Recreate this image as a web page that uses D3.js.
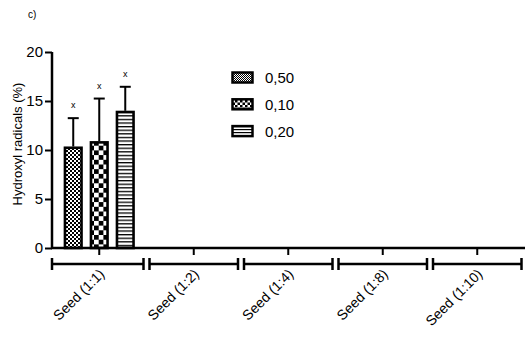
<!DOCTYPE html>
<html><head><meta charset="utf-8">
<script src="https://cdn.jsdelivr.net/npm/d3@7"></script>
<style>body{margin:0;background:#fff}svg{display:block}text{font-family:"Liberation Sans",Arial,sans-serif;fill:#000}</style>
</head><body><svg id="c" width="532" height="338"></svg>
<script>
const categories = ["Seed (1:1)", "Seed (1:2)", "Seed (1:4)", "Seed (1:8)", "Seed (1:10)"];
const seriesNames = ["0,50", "0,10", "0,20"];
const meanValues = [[10.35, null, null, null, null],[10.9, null, null, null, null],[14.0, null, null, null, null]];
const errorValues = [[2.9, null, null, null, null],[4.35, null, null, null, null],[2.45, null, null, null, null]];
const sigMarks = [["x", null, null, null, null],["x", null, null, null, null],["x", null, null, null, null]];
const yTicks = [0, 5, 10, 15, 20];

const svg = d3.select("#c");
const defs = svg.append("defs");
function checker(id, s){
  const p = defs.append("pattern").attr("id",id).attr("patternUnits","userSpaceOnUse").attr("width",2*s).attr("height",2*s);
  p.append("rect").attr("width",2*s).attr("height",2*s).attr("fill","#fff");
  p.append("rect").attr("width",s).attr("height",s).attr("fill","#000");
  p.append("rect").attr("x",s).attr("y",s).attr("width",s).attr("height",s).attr("fill","#000");
}
function stripes(id, period, lw){
  const p = defs.append("pattern").attr("id",id).attr("patternUnits","userSpaceOnUse").attr("width",4).attr("height",period);
  p.append("rect").attr("width",4).attr("height",period).attr("fill","#fff");
  p.append("rect").attr("width",4).attr("height",lw).attr("fill","#000");
}
checker("p1",2); checker("p2",4.7); stripes("p3",3.6,1.3);
checker("lp1",1); checker("lp2",2.5); stripes("lp3",3,1.2);
const fills = ["url(#p1)","url(#p2)","url(#p3)"];
const lfills = ["url(#lp1)","url(#lp2)","url(#lp3)"];

const x = d3.scaleBand().domain(categories).range([52, 524.5]);
const xs = d3.scaleBand().domain(seriesNames).range([-35.5, 35.5]).paddingInner(0.27).paddingOuter(0);
const y = d3.scaleLinear().domain([0, 20]).range([248, 52]);

// y axis
const ya = svg.append("g").attr("transform","translate(52,0)")
  .call(d3.axisLeft(y).tickValues(yTicks).tickSize(7).tickPadding(2));
ya.select(".domain").attr("stroke","#000").attr("stroke-width",2.5).attr("d","M0,52V248");
ya.selectAll(".tick line").attr("stroke","#000").attr("stroke-width",2);
ya.selectAll(".tick text").attr("font-size",15).attr("fill","#000");

// bars
const data = [];
seriesNames.forEach((s,i)=>categories.forEach((c,j)=>{ if(meanValues[i][j]!=null) data.push({s,i,c,v:meanValues[i][j],e:errorValues[i][j],m:sigMarks[i][j]}); }));
const g = svg.append("g");
data.forEach(d=>{
  const bx = x(d.c)+x.bandwidth()/2 + xs(d.s);
  const w = xs.bandwidth();
  const cx = bx + w/2;
  g.append("line").attr("x1",cx).attr("x2",cx).attr("y1",y(d.v)).attr("y2",y(d.v+d.e)).attr("stroke","#000").attr("stroke-width",2);
  g.append("line").attr("x1",cx-5.5).attr("x2",cx+5.5).attr("y1",y(d.v+d.e)).attr("y2",y(d.v+d.e)).attr("stroke","#000").attr("stroke-width",2);
  g.append("rect").attr("x",bx+1.2).attr("y",y(d.v)+1.2).attr("width",w-2.4).attr("height",y(0)-y(d.v)-1.2)
    .attr("fill",fills[d.i]).attr("stroke","#000").attr("stroke-width",2.6);
  g.append("text").attr("x",cx).attr("y",y(d.v+d.e)-10).attr("text-anchor","middle").attr("font-size",9).attr("fill","#000").text(d.m);
});

// x axis
const xa = svg.append("g").attr("transform","translate(0,248)")
  .call(d3.axisBottom(x).tickSize(7).tickFormat(""));
xa.select(".domain").attr("stroke","#000").attr("stroke-width",2.5).attr("d","M51,0H525");
xa.selectAll(".tick line").attr("stroke","#000").attr("stroke-width",2);

// brackets
const br = svg.append("g");
categories.forEach((c,j)=>{
  const x0 = x(c) + (j===0?0:3), x1 = x(c)+x.bandwidth() - 3;
  br.append("line").attr("x1",x0).attr("x2",x1).attr("y1",264).attr("y2",264).attr("stroke","#000").attr("stroke-width",2.5);
  br.append("line").attr("x1",x0).attr("x2",x0).attr("y1",258).attr("y2",270).attr("stroke","#000").attr("stroke-width",2.5);
  br.append("line").attr("x1",x1).attr("x2",x1).attr("y1",258).attr("y2",270).attr("stroke","#000").attr("stroke-width",2.5);
  const cx = x(c)+x.bandwidth()/2;
  br.append("text").attr("transform",`translate(${cx+6},${275}) rotate(-45)`).attr("text-anchor","end")
    .attr("font-size",14).attr("fill","#000").text(c);
});

// y label
svg.append("text").attr("transform","translate(22,144) rotate(-90)").attr("text-anchor","middle").attr("font-size",13).attr("fill","#000").text("Hydroxyl radicals (%)");
// panel label
svg.append("text").attr("x",28).attr("y",18).attr("font-family","Liberation Serif, serif").attr("font-size",10).attr("fill","#000").text("c)");

// legend
const lg = svg.append("g");
seriesNames.forEach((s,i)=>{
  const yy = 77.5 + i*26.8;
  lg.append("rect").attr("x",232.5).attr("y",yy-5).attr("width",20).attr("height",10).attr("fill",lfills[i]).attr("stroke","#000").attr("stroke-width",2.5);
  lg.append("text").attr("x",265).attr("y",yy+5.5).attr("font-size",15).attr("fill","#000").text(s);
});
</script></body></html>
